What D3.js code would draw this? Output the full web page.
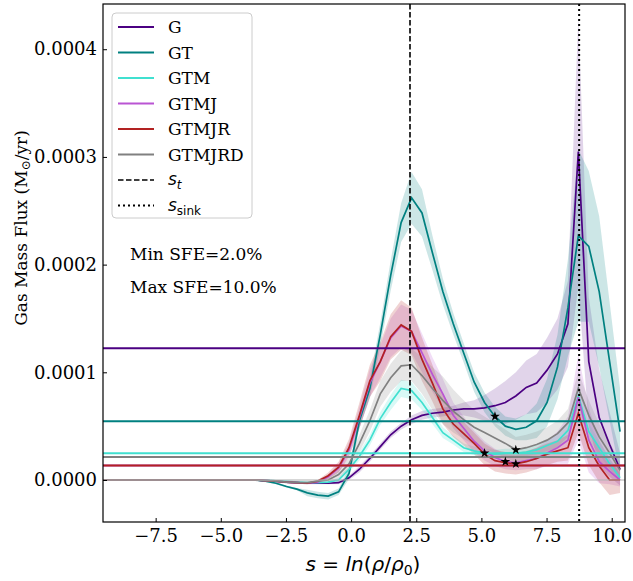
<!DOCTYPE html>
<html><head><meta charset="utf-8">
<script src="https://cdn.jsdelivr.net/npm/d3@7"></script>
<style>body{margin:0;background:#fff}svg{display:block}</style>
</head><body><svg id="c" width="633" height="581"></svg>
<script>
// s grid (x values)
const sGrid = [-9.68,-9.28,-8.88,-8.48,-8.08,-7.68,-7.28,-6.88,-6.48,-6.08,-5.68,-5.28,-4.88,-4.48,-4.08,-3.68,-3.28,-2.88,-2.48,-2.08,-1.68,-1.28,-0.88,-0.48,-0.08,0.32,0.72,1.12,1.52,1.92,2.32,2.72,3.12,3.52,3.92,4.32,4.72,5.12,5.52,5.92,6.32,6.72,7.12,7.52,7.92,8.32,8.72,9.12,9.52,9.92,10.32];
const Z15 = [0,0,0,0,0,0,0,0,0,0,0,0,0,0,0];
const B15 = [0.01,0.01,0.01,0.01,0.01,0.01,0.01,0.01,0.01,0.01,0.01,0.01,0.01,0.01,0.01];
// mean gas mass flux, units of 1e-4 Msun/yr
const fluxG      = Z15.concat([0,-0.005,-0.01,-0.02,-0.025,-0.03,-0.03,-0.03,-0.025,0.02,0.1,0.2,0.31,0.42,0.5,0.56,0.6,0.62,0.63,0.65,0.66,0.66,0.67,0.69,0.72,0.78,0.86,0.9,1.02,1.17,1.45,3.05,1.1,0.58,0.33,0.1]);
const fluxGT     = Z15.concat([0,-0.01,-0.03,-0.06,-0.085,-0.12,-0.14,-0.15,-0.11,0.06,0.55,0.85,1.35,1.9,2.39,2.62,2.48,2.11,1.75,1.45,1.18,0.91,0.72,0.59,0.5,0.47,0.49,0.55,0.72,1.05,1.6,2.27,2.17,1.75,1.1,0.45]);
const fluxGTM    = Z15.concat([0,-0.003,-0.008,-0.012,-0.02,-0.025,-0.025,-0.02,0.0,0.1,0.22,0.37,0.57,0.72,0.85,0.83,0.72,0.58,0.44,0.37,0.3,0.27,0.25,0.24,0.25,0.25,0.26,0.28,0.32,0.36,0.46,0.78,0.45,0.3,0.15,0.02]);
const fluxGTMJ   = Z15.concat([0,-0.005,-0.01,-0.02,-0.025,-0.03,-0.02,0.03,0.11,0.28,0.58,0.9,1.1,1.32,1.43,1.38,1.18,0.98,0.8,0.6,0.48,0.36,0.27,0.21,0.17,0.16,0.18,0.2,0.25,0.3,0.37,0.77,0.37,0.17,0.08,0.0]);
const fluxGTMJR  = Z15.concat([0,-0.005,-0.01,-0.02,-0.025,-0.03,-0.01,0.04,0.12,0.3,0.6,0.92,1.1,1.33,1.44,1.38,1.12,0.9,0.66,0.52,0.43,0.34,0.24,0.18,0.16,0.15,0.17,0.2,0.24,0.27,0.3,0.62,0.3,0.13,0.0,0.0]);
const fluxGTMJRD = Z15.concat([0,-0.005,-0.01,-0.02,-0.025,-0.025,-0.01,0.0,0.05,0.15,0.34,0.55,0.8,0.95,1.06,1.07,0.97,0.85,0.74,0.64,0.56,0.49,0.44,0.39,0.34,0.28,0.3,0.33,0.37,0.43,0.53,0.85,0.6,0.4,0.25,0.09]);
// half-width of shaded spread, same units
const spreadG      = B15.concat([0.01,0.01,0.01,0.01,0.01,0.01,0.01,0.01,0.015,0.02,0.03,0.03,0.03,0.03,0.03,0.04,0.04,0.04,0.04,0.04,0.06,0.08,0.12,0.16,0.2,0.22,0.25,0.27,0.3,0.33,0.4,1.25,0.6,0.45,0.3,0.15]);
const spreadGT     = B15.concat([0.01,0.01,0.01,0.01,0.01,0.03,0.03,0.03,0.03,0.05,0.07,0.09,0.11,0.14,0.18,0.24,0.22,0.16,0.12,0.1,0.09,0.09,0.09,0.09,0.09,0.1,0.12,0.16,0.22,0.3,0.45,0.8,0.7,0.7,0.55,0.4]);
const spreadGTM    = B15.concat([0.01,0.01,0.01,0.01,0.01,0.01,0.01,0.01,0.02,0.03,0.04,0.05,0.06,0.07,0.08,0.08,0.07,0.06,0.05,0.04,0.04,0.04,0.04,0.04,0.04,0.04,0.04,0.04,0.05,0.06,0.08,0.12,0.08,0.06,0.05,0.03]);
const spreadGTMJ   = B15.concat([0.01,0.01,0.01,0.01,0.01,0.01,0.01,0.02,0.04,0.07,0.1,0.13,0.15,0.18,0.2,0.2,0.18,0.16,0.14,0.12,0.11,0.1,0.09,0.08,0.07,0.07,0.08,0.1,0.12,0.15,0.22,0.4,0.3,0.2,0.12,0.06]);
const spreadGTMJR  = B15.concat([0.01,0.01,0.01,0.01,0.01,0.01,0.01,0.03,0.05,0.08,0.12,0.15,0.18,0.21,0.23,0.22,0.2,0.17,0.14,0.12,0.11,0.1,0.1,0.1,0.1,0.1,0.1,0.1,0.1,0.1,0.12,0.18,0.16,0.15,0.14,0.12]);
const spreadGTMJRD = B15.concat([0.01,0.01,0.01,0.01,0.01,0.01,0.01,0.02,0.04,0.06,0.08,0.1,0.12,0.13,0.14,0.15,0.17,0.2,0.22,0.2,0.18,0.16,0.15,0.14,0.13,0.12,0.12,0.12,0.12,0.12,0.13,0.16,0.14,0.12,0.1,0.08]);
// horizontal reference levels (1e-4 Msun/yr)
const levelNames  = ["G","GT","GTM","GTMJ","GTMJR","GTMJRD"];
const levelValues = [1.223,0.545,0.248,0.135,0.135,0.214];
// star markers: series and s position
const starSeries = ["GT","GTM","GTMJ","GTMJR","GTMJRD"];
const starS      = [5.52,5.12,5.92,6.32,6.32];
const seriesNames  = ["G","GT","GTM","GTMJ","GTMJR","GTMJRD"];
const seriesColors = ["#4b0082","#008080","#40e0d0","#ba55d3","#b22222","#808080"];
const sT = 2.26, sSink = 8.75;
const xTicks = [-7.5,-5.0,-2.5,0.0,2.5,5.0,7.5,10.0];
const yTicks = [0,1,2,3,4];
const yTickLabels = ["0.0000","0.0001","0.0002","0.0003","0.0004"];

const means = {G:fluxG,GT:fluxGT,GTM:fluxGTM,GTMJ:fluxGTMJ,GTMJR:fluxGTMJR,GTMJRD:fluxGTMJRD};
const spreads = {G:spreadG,GT:spreadGT,GTM:spreadGTM,GTMJ:spreadGTMJ,GTMJR:spreadGTMJR,GTMJRD:spreadGTMJRD};
const color = d3.scaleOrdinal(seriesNames, seriesColors);

const L=103,R=625,T=4,B=522;
const x = d3.scaleLinear([-9.52,10.51],[L,R]);
const y = d3.scaleLinear([-0.39,4.42],[B,T]);
const svg = d3.select("#c");
const serif = "DejaVu Serif";

svg.append("clipPath").attr("id","clip").append("rect").attr("x",L).attr("y",T).attr("width",R-L).attr("height",B-T);
const g = svg.append("g").attr("clip-path","url(#clip)");

// bands
seriesNames.forEach(n=>{
  const m=means[n], sp=spreads[n];
  const area=d3.area().x((d,i)=>x(sGrid[i])).y0((d,i)=>y(m[i]-sp[i])).y1((d,i)=>y(m[i]+sp[i]));
  g.append("path").attr("d",area(m)).attr("fill",color(n)).attr("fill-opacity",n==="G"?0.17:0.2).attr("stroke","none");
});
// lines
seriesNames.forEach(n=>{
  const m=means[n];
  const line=d3.line().x((d,i)=>x(sGrid[i])).y(d=>y(d));
  g.append("path").attr("d",line(m)).attr("fill","none").attr("stroke",color(n)).attr("stroke-width",1.7);
});
// zero line
g.append("line").attr("x1",L).attr("x2",R).attr("y1",y(0)).attr("y2",y(0)).attr("stroke","#b0b0b0").attr("stroke-width",1.2);
// level lines
levelNames.forEach((n,i)=>{
  g.append("line").attr("x1",L).attr("x2",R).attr("y1",y(levelValues[i])).attr("y2",y(levelValues[i]))
   .attr("stroke",color(n)).attr("stroke-width",2);
});
// vertical lines
g.append("line").attr("x1",x(sT)).attr("x2",x(sT)).attr("y1",T).attr("y2",B).attr("stroke","#000").attr("stroke-width",1.6).attr("stroke-dasharray","5.5,2.5");
g.append("line").attr("x1",x(sSink)).attr("x2",x(sSink)).attr("y1",T).attr("y2",B).attr("stroke","#000").attr("stroke-width",2).attr("stroke-dasharray","2,3");
// stars
starSeries.forEach((n,i)=>{
  const idx = sGrid.findIndex(v=>Math.abs(v-starS[i])<1e-6);
  g.append("path").attr("d",d3.symbol(d3.symbolStar,30)()).attr("transform",`translate(${x(sGrid[idx])},${y(means[n][idx])})`).attr("fill","#000");
});

// axes
const xa = svg.append("g").attr("transform",`translate(0,${B})`).call(d3.axisBottom(x).tickValues(xTicks).tickFormat(d3.format(".1f")).tickSizeInner(-4).tickSizeOuter(0).tickPadding(7));
xa.select(".domain").remove();
xa.selectAll("text").attr("font-family",serif).attr("font-size",18).text(d=>d3.format(".1f")(d).replace("-","\u2212"));
const ya = svg.append("g").attr("transform",`translate(${L},0)`).call(d3.axisLeft(y).tickValues(yTicks).tickFormat((d,i)=>yTickLabels[i]).tickSizeInner(-4).tickSizeOuter(0).tickPadding(6));
ya.select(".domain").remove();
ya.selectAll("text").attr("font-family",serif).attr("font-size",18);
svg.selectAll(".tick line").attr("stroke","#000").attr("stroke-width",1);
svg.append("rect").attr("x",L).attr("y",T).attr("width",R-L).attr("height",B-T).attr("fill","none").attr("stroke","#000").attr("stroke-width",1.2);

// axis labels
const xl = svg.append("text").attr("x",363).attr("y",571).attr("text-anchor","middle").attr("font-family","DejaVu Sans").attr("font-size",20);
xl.append("tspan").attr("font-style","italic").text("s");
xl.append("tspan").text(" = ");
xl.append("tspan").attr("font-style","italic").text("ln");
xl.append("tspan").text("(");
xl.append("tspan").attr("font-style","italic").text("ρ");
xl.append("tspan").text("/");
xl.append("tspan").attr("font-style","italic").text("ρ");
xl.append("tspan").attr("font-size",14).attr("dy",4).text("0");
xl.append("tspan").attr("dy",-4).text(")");

const yl = svg.append("text").attr("transform","translate(27,228) rotate(-90)").attr("text-anchor","middle").attr("font-family",serif).attr("font-size",17);
yl.append("tspan").text("Gas Mass Flux (M");
yl.append("tspan").attr("font-size",12).attr("dy",3).text("⊙");
yl.append("tspan").attr("dy",-3).text("/yr)");

// annotations
svg.append("text").attr("x",130).attr("y",260).attr("font-family",serif).attr("font-size",17).text("Min SFE=2.0%");
svg.append("text").attr("x",130).attr("y",293).attr("font-family",serif).attr("font-size",17).text("Max SFE=10.0%");

// legend
const lg = svg.append("g");
lg.append("rect").attr("x",112).attr("y",13).attr("width",140).attr("height",205).attr("rx",4).attr("fill","#fff").attr("fill-opacity",0.85).attr("stroke","#cccccc").attr("stroke-width",1);
const rowY = i=>27+i*25.5;
seriesNames.forEach((n,i)=>{
  lg.append("line").attr("x1",118).attr("x2",154).attr("y1",rowY(i)).attr("y2",rowY(i)).attr("stroke",color(n)).attr("stroke-width",2);
  lg.append("text").attr("x",168).attr("y",rowY(i)).attr("dy","0.36em").attr("font-family",serif).attr("font-size",17).text(n);
});
lg.append("line").attr("x1",118).attr("x2",154).attr("y1",rowY(6)).attr("y2",rowY(6)).attr("stroke","#000").attr("stroke-width",1.6).attr("stroke-dasharray","5.5,2.5");
lg.append("line").attr("x1",118).attr("x2",154).attr("y1",rowY(7)).attr("y2",rowY(7)).attr("stroke","#000").attr("stroke-width",2).attr("stroke-dasharray","2,3");
const t1 = lg.append("text").attr("x",168).attr("y",rowY(6)).attr("dy","0.3em").attr("font-family","DejaVu Sans").attr("font-size",17);
t1.append("tspan").attr("font-style","italic").text("s");
t1.append("tspan").attr("font-style","italic").attr("font-size",12).attr("dy",4).text("t");
const t2 = lg.append("text").attr("x",168).attr("y",rowY(7)).attr("dy","0.3em").attr("font-family","DejaVu Sans").attr("font-size",17);
t2.append("tspan").attr("font-style","italic").text("s");
t2.append("tspan").attr("font-size",12).attr("dy",4).text("sink");
</script></body></html>
